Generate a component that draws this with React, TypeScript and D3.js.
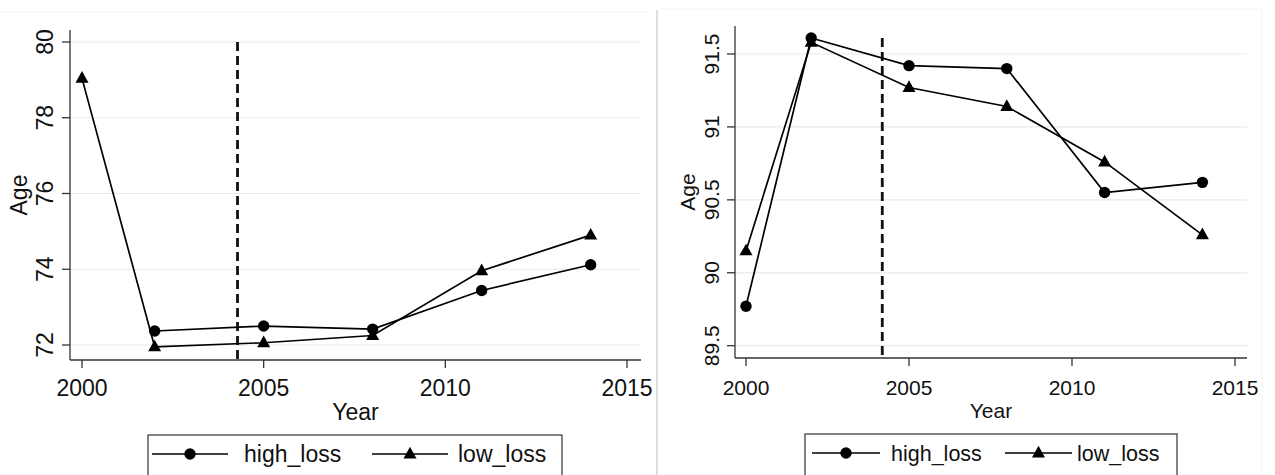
import React from "react";
import * as d3 from "d3";

const years = [2000, 2002, 2005, 2008, 2011, 2014];
const leftHigh: (number | null)[] = [null, 72.37, 72.5, 72.42, 73.44, 74.12];
const leftLow: (number | null)[] = [79.04, 71.95, 72.06, 72.25, 73.96, 74.9];
const rightHigh: (number | null)[] = [89.77, 91.61, 91.42, 91.4, 90.55, 90.62];
const rightLow: (number | null)[] = [90.15, 91.58, 91.27, 91.14, 90.76, 90.26];
const xTicks = [2000, 2005, 2010, 2015];
const leftYTicks = [72, 74, 76, 78, 80];
const rightYTicks = [89.5, 90, 90.5, 91, 91.5];
const seriesNames = ["high_loss", "low_loss"];
const leftCutoff = 2004.28;
const rightCutoff = 2004.18;

type PanelCfg = {
  high: (number | null)[];
  low: (number | null)[];
  yTicks: number[];
  yDomain: [number, number];
  xRange: [number, number];
  yRange: [number, number];
  axisX: number;
  axisRight: number;
  axisTop: number;
  axisBottom: number;
  cutoff: number;
  dashTop: number;
  tickFont: number;
  tickLabelX: number;
  ageX: number;
  yearY: number;
  tickLabelY: number;
  legend: { x0: number; x1: number; y: number; items: { l0: number; l1: number; tx: number }[]; font: number };
  fmt: (v: number) => string;
};

const FONT = "'Liberation Sans', Arial, Helvetica, sans-serif";

function Triangle({ x, y, s }: { x: number; y: number; s: number }) {
  const h = s * 0.9;
  return <path d={`M${x},${y - h * 0.62}L${x + s / 2},${y + h * 0.38}L${x - s / 2},${y + h * 0.38}Z`} fill="#000" />;
}

function Panel({ c }: { c: PanelCfg }) {
  const x = d3.scaleLinear().domain([2000, 2015]).range(c.xRange);
  const y = d3.scaleLinear().domain(c.yDomain).range(c.yRange);
  const line = d3
    .line<[number, number | null]>()
    .defined((d) => d[1] !== null)
    .x((d) => x(d[0]))
    .y((d) => y(d[1] as number));
  const hi = years.map((yr, i) => [yr, c.high[i]] as [number, number | null]);
  const lo = years.map((yr, i) => [yr, c.low[i]] as [number, number | null]);
  const axisMid = (c.axisX + c.axisRight) / 2;
  const yMid = (c.axisTop + c.axisBottom) / 2;
  return (
    <g fontFamily={FONT}>
      {c.yTicks.map((t) => (
        <line key={"g" + t} x1={c.axisX} x2={c.axisRight} y1={y(t)} y2={y(t)} stroke="#e4ecef" strokeWidth={1.2} />
      ))}
      <line x1={c.axisX} x2={c.axisX} y1={c.axisTop} y2={c.axisBottom} stroke="#333" strokeWidth={1.3} />
      <line x1={c.axisX} x2={c.axisRight} y1={c.axisBottom} y2={c.axisBottom} stroke="#333" strokeWidth={1.3} />
      {c.yTicks.map((t) => (
        <g key={"yt" + t}>
          <line x1={c.axisX - 8} x2={c.axisX} y1={y(t)} y2={y(t)} stroke="#333" strokeWidth={1.3} />
          <text
            transform={`translate(${c.tickLabelX},${y(t)}) rotate(-90)`}
            textAnchor="middle"
            fontSize={c.tickFont}
            fill="#111"
          >
            {c.fmt(t)}
          </text>
        </g>
      ))}
      {xTicks.map((t) => (
        <g key={"xt" + t}>
          <line x1={x(t)} x2={x(t)} y1={c.axisBottom} y2={c.axisBottom + 8} stroke="#333" strokeWidth={1.3} />
          <text x={x(t)} y={c.tickLabelY} textAnchor="middle" fontSize={c.tickFont} fill="#111">
            {t}
          </text>
        </g>
      ))}
      <text x={axisMid} y={c.yearY} textAnchor="middle" fontSize={c.tickFont} fill="#111">
        Year
      </text>
      <text transform={`translate(${c.ageX},${yMid}) rotate(-90)`} textAnchor="middle" fontSize={c.tickFont} fill="#111">
        Age
      </text>
      <line
        x1={x(c.cutoff)}
        x2={x(c.cutoff)}
        y1={c.dashTop}
        y2={c.axisBottom}
        stroke="#111"
        strokeWidth={2.8}
        strokeDasharray="9,5"
      />
      <path d={line(hi) || ""} fill="none" stroke="#000" strokeWidth={1.7} />
      <path d={line(lo) || ""} fill="none" stroke="#000" strokeWidth={1.7} />
      {hi
        .filter((d) => d[1] !== null)
        .map((d) => (
          <circle key={"c" + d[0]} cx={x(d[0])} cy={y(d[1] as number)} r={5.7} fill="#000" />
        ))}
      {lo
        .filter((d) => d[1] !== null)
        .map((d) => (
          <Triangle key={"t" + d[0]} x={x(d[0])} y={y(d[1] as number)} s={13} />
        ))}
      <rect
        x={c.legend.x0}
        y={c.legend.y}
        width={c.legend.x1 - c.legend.x0}
        height={60}
        fill="#fff"
        stroke="#333"
        strokeWidth={1.2}
      />
      {c.legend.items.map((it, i) => {
        const ly = c.legend.y + 19;
        const mx = (it.l0 + it.l1) / 2;
        return (
          <g key={"lg" + i}>
            <line x1={it.l0} x2={it.l1} y1={ly} y2={ly} stroke="#000" strokeWidth={1.7} />
            {i === 0 ? <circle cx={mx} cy={ly} r={5.7} fill="#000" /> : <Triangle x={mx} y={ly} s={13} />}
            <text x={it.tx} y={ly + 8} fontSize={c.legend.font} fill="#111">
              {seriesNames[i]}
            </text>
          </g>
        );
      })}
    </g>
  );
}

const leftCfg: PanelCfg = {
  high: leftHigh,
  low: leftLow,
  yTicks: leftYTicks,
  yDomain: [72, 80],
  xRange: [82, 627],
  yRange: [345, 42],
  axisX: 70,
  axisRight: 641,
  axisTop: 30,
  axisBottom: 360,
  cutoff: leftCutoff,
  dashTop: 42,
  tickFont: 23,
  tickLabelX: 53,
  ageX: 27,
  yearY: 420,
  tickLabelY: 396,
  legend: {
    x0: 148,
    x1: 562,
    y: 435,
    font: 23,
    items: [
      { l0: 152, l1: 228, tx: 244 },
      { l0: 372, l1: 448, tx: 458 },
    ],
  },
  fmt: (v) => String(v),
};

const rightCfg: PanelCfg = {
  high: rightHigh,
  low: rightLow,
  yTicks: rightYTicks,
  yDomain: [89.5, 91.5],
  xRange: [746, 1235],
  yRange: [345.7, 54],
  axisX: 735,
  axisRight: 1247,
  axisTop: 26,
  axisBottom: 358,
  cutoff: rightCutoff,
  dashTop: 38,
  tickFont: 21,
  tickLabelX: 719,
  ageX: 695,
  yearY: 418,
  tickLabelY: 395,
  legend: {
    x0: 805,
    x1: 1177,
    y: 434,
    font: 21.5,
    items: [
      { l0: 812, l1: 880, tx: 891 },
      { l0: 1005, l1: 1072, tx: 1077 },
    ],
  },
  fmt: (v) => String(v),
};

export default function App() {
  return (
    <div style={{ position: "absolute", left: 0, top: 0 }}>
      <svg width={1275} height={475} style={{ display: "block", background: "#fff" }}>
        <rect x={0} y={0} width={1275} height={475} fill="#fff" />
        <line x1={0} x2={650} y1={12} y2={12} stroke="#f3f3f3" strokeWidth={1} />
        <line x1={660} x2={1262} y1={9} y2={9} stroke="#f3f3f3" strokeWidth={1} />
        <line x1={1262} x2={1262} y1={9} y2={475} stroke="#f3f3f3" strokeWidth={1} />
        <line x1={657} x2={657} y1={10} y2={475} stroke="#c8c8c8" strokeWidth={1.2} />
        <Panel c={leftCfg} />
        <Panel c={rightCfg} />
      </svg>
    </div>
  );
}
